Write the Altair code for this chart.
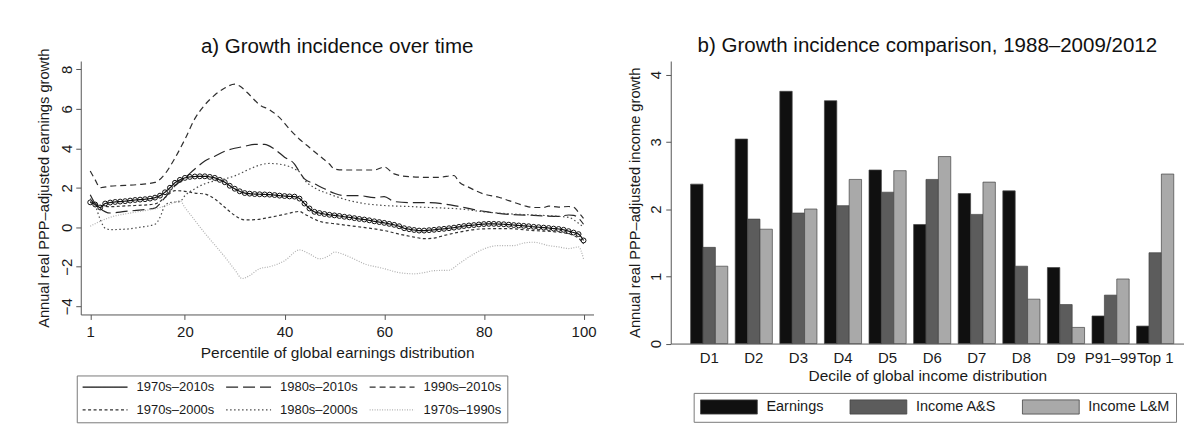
import altair as alt
import pandas as pd

FONT = "Liberation Sans"

# ---------------- Panel a) data ----------------
series_order = ["1970s–2010s", "1980s–2010s", "1990s–2010s",
                "1970s–2000s", "1980s–2000s", "1970s–1990s"]

# 1970s-2010s (marked with circles at each percentile)
p_7010 = list(range(1, 101))
v_7010 = [1.26, 1.15, 1.00, 1.20, 1.25, 1.28, 1.30, 1.32, 1.35, 1.38,
          1.40, 1.42, 1.45, 1.50, 1.60, 1.77, 2.00, 2.25, 2.40, 2.50,
          2.55, 2.57, 2.58, 2.58, 2.55, 2.50, 2.40, 2.28, 2.10, 1.95,
          1.82, 1.73, 1.70, 1.68, 1.67, 1.66, 1.65, 1.63, 1.60, 1.58,
          1.56, 1.55, 1.45, 1.20, 0.95, 0.78, 0.72, 0.67, 0.63, 0.60,
          0.57, 0.53, 0.50, 0.46, 0.42, 0.39, 0.35, 0.30, 0.26, 0.22,
          0.17, 0.12, 0.05, -0.05, -0.10, -0.14, -0.17, -0.17, -0.15, -0.13,
          -0.10, -0.08, -0.05, -0.02, 0.02, 0.06, 0.09, 0.11, 0.14, 0.16,
          0.17, 0.17, 0.16, 0.15, 0.13, 0.11, 0.09, 0.07, 0.05, 0.02,
          0.00, -0.02, -0.04, -0.07, -0.09, -0.13, -0.20, -0.27, -0.35, -0.67]

p_8010 = [1, 2, 3, 5, 8, 12, 14, 15, 16, 18, 20, 22, 24, 26, 28, 30, 32, 34, 36, 38,
          40, 42, 43, 44, 46, 48, 50, 52, 55, 58, 60, 62, 65, 68, 72, 75, 80, 85, 90,
          95, 97, 98, 99, 100]
v_8010 = [1.65, 1.20, 0.95, 0.72, 0.80, 0.90, 0.97, 1.20, 1.50, 2.10, 2.50, 2.95, 3.35,
          3.60, 3.85, 4.00, 4.10, 4.20, 4.20, 3.95, 3.55, 3.20, 2.80, 2.45, 2.20, 1.95,
          1.72, 1.60, 1.60, 1.50, 1.55, 1.30, 1.25, 1.25, 1.18, 1.05, 0.80, 0.65, 0.60,
          0.55, 0.62, 0.60, 0.45, 0.15]

p_9010 = [1, 2, 3, 5, 8, 11, 14, 16, 18, 20, 22, 24, 26, 28, 30, 31, 33, 35, 37, 39,
          41, 43, 45, 47, 49, 50, 52, 55, 58, 60, 62, 65, 68, 71, 74, 75, 77, 80, 83,
          85, 88, 90, 92, 93, 95, 97, 98, 99, 100]
v_9010 = [2.85, 2.40, 2.00, 2.08, 2.12, 2.17, 2.27, 2.70, 3.50, 4.45, 5.50, 6.20, 6.70,
          7.05, 7.25, 7.15, 6.70, 6.20, 5.95, 5.55, 4.97, 4.46, 4.04, 3.62, 3.20, 2.95,
          2.90, 2.90, 2.90, 3.05, 2.70, 2.56, 2.53, 2.53, 2.62, 2.30, 2.02, 1.68, 1.52,
          1.35, 1.10, 1.00, 1.00, 1.07, 1.02, 1.05, 1.02, 0.75, 0.45]

p_7000 = [1, 2, 3, 5, 8, 10, 14, 16, 18, 20, 22, 24, 26, 28, 30, 32, 34, 37, 40, 43,
          44, 47, 50, 53, 57, 60, 63, 66, 68, 70, 72, 75, 80, 85, 90, 95, 98, 99, 100]
v_7000 = [1.30, 1.20, 1.10, 1.04, 1.08, 1.10, 1.18, 1.50, 1.85, 1.82, 1.73, 1.68, 1.43,
          1.01, 0.60, 0.37, 0.38, 0.50, 0.65, 0.80, 0.67, 0.30, 0.18, 0.08, -0.05, -0.17,
          -0.35, -0.50, -0.58, -0.55, -0.42, -0.25, -0.08, -0.07, -0.17, -0.25, -0.42,
          -0.55, -0.84]

p_8000 = [1, 2, 3, 4, 5, 8, 11, 14, 15, 16, 17, 19, 20, 22, 24, 26, 28, 30, 33, 35,
          37, 40, 42, 43, 44, 46, 49, 53, 56, 60, 65, 69, 72, 75, 80, 85, 90, 95, 97,
          99, 100]
v_8000 = [1.45, 1.10, 0.40, -0.05, -0.12, -0.10, 0.00, 0.15, 0.50, 1.10, 1.25, 1.30,
          1.60, 1.95, 2.20, 2.35, 2.45, 2.60, 2.95, 3.15, 3.23, 3.15, 2.95, 2.80, 2.40,
          2.00, 1.68, 1.35, 1.20, 1.10, 1.05, 1.00, 0.97, 0.93, 0.78, 0.68, 0.62, 0.55,
          0.50, 0.20, 0.00]

p_7090 = [1, 3, 5, 10, 15, 18, 19, 20, 22, 24, 26, 28, 30, 31.5, 33, 35, 37, 40, 43,
          45, 47, 49, 50, 53, 56, 60, 63, 66, 68, 70, 73, 75, 78, 80, 83, 86, 88, 90,
          93, 95, 97, 99, 100]
v_7090 = [0.05, 0.30, 0.50, 0.76, 1.00, 1.26, 1.35, 1.00, 0.35, -0.30, -0.90, -1.50,
          -2.15, -2.60, -2.45, -2.10, -2.00, -1.70, -1.15, -1.35, -1.60, -1.43, -1.26,
          -1.50, -1.85, -2.10, -2.30, -2.36, -2.30, -2.20, -2.18, -1.85, -1.35, -1.10,
          -0.93, -0.93, -0.80, -0.76, -0.93, -1.00, -1.08, -1.00, -1.60]

series_data = [
    ("1970s–2010s", p_7010, v_7010),
    ("1980s–2010s", p_8010, v_8010),
    ("1990s–2010s", p_9010, v_9010),
    ("1970s–2000s", p_7000, v_7000),
    ("1980s–2000s", p_8000, v_8000),
    ("1970s–1990s", p_7090, v_7090),
]
rows = []
for name, ps, vs in series_data:
    for p, v in zip(ps, vs):
        rows.append({"p": p, "v": v, "series": name})
df_lines = pd.DataFrame(rows)
df_circles = pd.DataFrame({"p": p_7010, "v": v_7010})

line_colors = ["#111111", "#262626", "#2e2e2e", "#333333", "#4a4a4a", "#b0b0b0"]
line_dashes = [[1, 0], [12, 5], [6, 4], [3, 2.5], [1.5, 2.5], [1, 1.5]]

# ---------------- Panel b) data ----------------
deciles = ["D1", "D2", "D3", "D4", "D5", "D6", "D7", "D8", "D9", "P91–99", "Top 1"]
measures = ["Earnings", "Income A&S", "Income L&M"]
earnings = [2.37, 3.04, 3.75, 3.61, 2.58, 1.77, 2.23, 2.27, 1.13, 0.41, 0.26]
income_as = [1.43, 1.85, 1.94, 2.05, 2.25, 2.44, 1.92, 1.15, 0.58, 0.72, 1.35]
income_lm = [1.15, 1.70, 2.00, 2.44, 2.57, 2.78, 2.40, 0.66, 0.24, 0.96, 2.52]
bar_colors = ["#101010", "#5c5c5c", "#a9a9a9"]

brows = []
for i, d in enumerate(deciles):
    for m, vals in zip(measures, [earnings, income_as, income_lm]):
        brows.append({"decile": d, "measure": m, "value": vals[i]})
df_bars = pd.DataFrame(brows)

# ---------------- Panel a) chart ----------------
leg_left = alt.Legend(
    title=None, orient="none", legendX=-4, legendY=315.5,
    direction="horizontal", columns=3, gridAlign="all",
    symbolType="M-1,0H7", symbolSize=127, symbolStrokeWidth=1.3,
    symbolFillColor="transparent",
    labelOffset=42, labelFontSize=13, labelFont=FONT, labelColor="#1a1a1a",
    columnPadding=8, rowPadding=9, padding=5,
    strokeColor="#7a7a7a",
)

x_a = alt.X("p:Q", scale=alt.Scale(domain=[-0.9, 102], nice=False, zero=False),
            axis=alt.Axis(title="Percentile of global earnings distribution",
                          values=[1, 20, 40, 60, 80, 100], grid=False,
                          tickSize=5, labelPadding=5.5, titlePadding=6,
                          titleFontSize=15.5, labelFlush=False))
y_a = alt.Y("v:Q", scale=alt.Scale(domain=[-4.42, 8.42], nice=False, zero=False),
            axis=alt.Axis(title="Annual real PPP–adjusted earnings growth",
                          values=[-4, -2, 0, 2, 4, 6, 8], grid=False,
                          tickSize=5, labelAngle=-90, labelAlign="center",
                          labelBaseline="bottom", labelPadding=1, titlePadding=8))

lines = alt.Chart(df_lines).mark_line(strokeWidth=1.2, interpolate="monotone").encode(
    x=x_a, y=y_a,
    color=alt.Color("series:N", sort=series_order,
                    scale=alt.Scale(domain=series_order, range=line_colors),
                    legend=leg_left),
    strokeDash=alt.StrokeDash("series:N", sort=series_order,
                              scale=alt.Scale(domain=series_order, range=line_dashes),
                              legend=leg_left),
)
circles = alt.Chart(df_circles).mark_point(
    shape="circle", filled=False, size=24, color="#111111", strokeWidth=1.0, opacity=1
).encode(x="p:Q", y="v:Q")

left = alt.layer(lines, circles).properties(
    width=514.5, height=254.3,
    title=alt.Title("a) Growth incidence over time", fontSize=20.6,
                    fontWeight="normal", anchor="middle", color="#111111", font=FONT,
                    frame="group", offset=-9),
)

# ---------------- Panel b) chart ----------------
leg_right = alt.Legend(
    title=None, orient="none", legendX=23, legendY=333, direction="horizontal",
    symbolType="M-1,-1H7V1H-1Z", symbolSize=203, symbolStrokeColor="#444444",
    symbolStrokeWidth=0.8,
    labelOffset=51, labelFontSize=14.5, labelFont=FONT, labelColor="#1a1a1a",
    columnPadding=24, padding=6, strokeColor="#7a7a7a",
)

bars = alt.Chart(df_bars).mark_bar(stroke="#444444", strokeWidth=0.7).encode(
    x=alt.X("decile:N", sort=deciles,
            scale=alt.Scale(domain=deciles, paddingInner=0.167, paddingOuter=0.3375,
                            align=0.66),
            axis=alt.Axis(title="Decile of global income distribution", labelAngle=0,
                          ticks=False, labelPadding=7.5, titlePadding=3,
                          titleFontSize=15.5)),
    xOffset=alt.XOffset("measure:N", sort=measures,
                        scale=alt.Scale(domain=measures, paddingInner=0, paddingOuter=0)),
    y=alt.Y("value:Q", scale=alt.Scale(domain=[0, 4.2], nice=False),
            axis=alt.Axis(title="Annual real PPP–adjusted income growth",
                          values=[0, 1, 2, 3, 4], grid=False, tickSize=5,
                          labelAngle=-90, labelAlign="center", labelBaseline="bottom",
                          labelPadding=2, titlePadding=6)),
    color=alt.Color("measure:N", sort=measures,
                    scale=alt.Scale(domain=measures, range=bar_colors),
                    legend=leg_right),
)

right = bars.properties(
    width=515, height=283.5,
    title=alt.Title("b) Growth incidence comparison, 1988–2009/2012", fontSize=20.6,
                    fontWeight="normal", anchor="middle", color="#111111", font=FONT,
                    frame="group"),
)

chart = alt.hconcat(left, right, spacing=30).resolve_scale(
    color="independent", strokeDash="independent"
).resolve_legend(
    color="independent", strokeDash="independent"
).properties(
    padding={"left": 28, "top": 27.5, "right": 0, "bottom": 0},
    background="white",
).configure(font=FONT).configure_view(stroke=None).configure_axis(
    domainColor="#555555", tickColor="#555555", labelColor="#1a1a1a",
    titleColor="#1a1a1a", titleFontWeight="normal", labelFontSize=15,
    titleFontSize=14.7, labelFont=FONT, titleFont=FONT, domainWidth=1, tickWidth=1,
)

chart.save("out.html", embed_options={"renderer": "svg", "actions": False})
